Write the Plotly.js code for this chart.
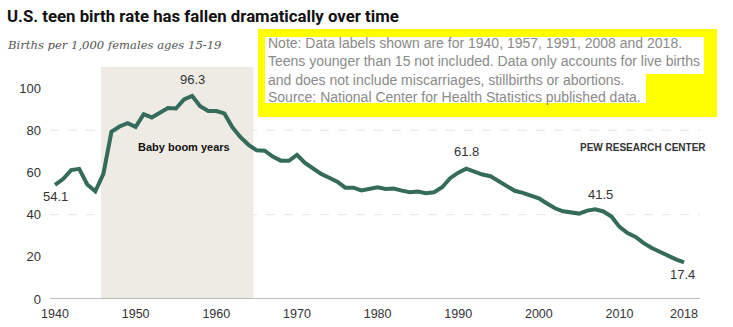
<!DOCTYPE html>
<html>
<head>
<meta charset="utf-8">
<script src="https://cdn.plot.ly/plotly-3.0.1.min.js"></script>
<style>
html,body{margin:0;padding:0;background:#fff;}
#chart{width:733px;height:327px;}
</style>
</head>
<body>
<div id="chart"></div>
<script>
// ---- Data ----
const years = [1940,1941,1942,1943,1944,1945,1946,1947,1948,1949,
  1950,1951,1952,1953,1954,1955,1956,1957,1958,1959,
  1960,1961,1962,1963,1964,1965,1966,1967,1968,1969,
  1970,1971,1972,1973,1974,1975,1976,1977,1978,1979,
  1980,1981,1982,1983,1984,1985,1986,1987,1988,1989,
  1990,1991,1992,1993,1994,1995,1996,1997,1998,1999,
  2000,2001,2002,2003,2004,2005,2006,2007,2008,2009,
  2010,2011,2012,2013,2014,2015,2016,2017,2018];
const birthRate = [54.1,56.9,61.1,61.7,54.3,51.1,59.3,79.3,81.8,83.4,
  81.6,87.6,86.1,88.2,90.6,90.3,94.6,96.3,91.4,89.1,
  89.1,88.0,81.4,76.7,73.1,70.5,70.3,67.5,65.6,65.5,
  68.3,64.5,61.7,59.3,57.5,55.6,52.8,52.8,51.5,52.3,
  53.0,52.2,52.4,51.4,50.6,51.0,50.2,50.6,53.0,57.3,
  59.9,61.8,60.3,59.0,58.2,56.0,53.5,51.3,50.3,48.8,
  47.7,45.3,43.0,41.6,41.1,40.5,41.9,42.5,41.5,39.1,
  34.2,31.3,29.4,26.5,24.2,22.3,20.3,18.8,17.4];
const labelYears = [1940,1957,1991,2008,2018];
const xTickVals = [1940,1950,1960,1970,1980,1990,2000,2010,2018];
const yTickVals = [0,20,40,60,80,100];
const babyBoom = [1945.7,1964.6];
const noteLines = [
  "Note: Data labels shown are for 1940, 1957, 1991, 2008 and 2018.",
  "Teens younger than 15 not included. Data only accounts for live births",
  "and does not include miscarriages, stillbirths or abortions.",
  "Source: National Center for Health Statistics published data."
];

// ---- Layout helpers ----
const L=50, T=67, W=650, H=232;
const px = x => (x-L)/W;
const py = y => (T+H-y)/H;
const FONT = "Liberation Sans, Arial, sans-serif";

const labelOffsets = {1940:[0,-12],1957:[0,16],1991:[0,17],2008:[-3,17],2018:[-2,-12]};
const annotations = [];
labelYears.forEach(yr=>{
  const v = birthRate[years.indexOf(yr)];
  const o = labelOffsets[yr];
  annotations.push({x:yr, y:v, xref:'x', yref:'y', text:v.toFixed(1), showarrow:false,
    xshift:o[0], yshift:o[1], font:{family:FONT,size:13,color:'#333'}});
});
annotations.push({x:1956, y:72, xref:'x', yref:'y', text:'<b>Baby boom years</b>', showarrow:false,
  font:{family:FONT,size:11,color:'#111'}});
annotations.push({x:px(708), y:py(140), xref:'paper', yref:'paper', xanchor:'right', text:'<b>PEW RESEARCH CENTER</b>',
  showarrow:false, font:{family:FONT,size:10,color:'#333'}});
annotations.push({x:px(5), y:py(16), xref:'paper', yref:'paper', xanchor:'left', yanchor:'middle',
  text:'<b>U.S. teen birth rate has fallen dramatically over time</b>', showarrow:false,
  font:{family:"Roboto, Liberation Sans, sans-serif",size:16.8,color:'#111'}});
annotations.push({x:px(5), y:py(45), xref:'paper', yref:'paper', xanchor:'left', yanchor:'middle',
  text:'<i>Births per 1,000 females ages 15-19</i>', showarrow:false,
  font:{family:"DejaVu Serif, Georgia, serif",size:11.6,color:'#555'}});
const lineY = [43,61,80,97];
noteLines.forEach((t,i)=>{
  annotations.push({x:px(266), y:py(lineY[i]), xref:'paper', yref:'paper', xanchor:'left', yanchor:'middle',
    text:t, showarrow:false, font:{family:FONT,size:14,color:'#8a8a8a'}});
});

const shapes = [
  {type:'rect', xref:'x', yref:'y', x0:babyBoom[0], x1:babyBoom[1], y0:0, y1:110,
    fillcolor:'#eeebe5', line:{width:0}, layer:'below'},
  {type:'line', xref:'paper', yref:'y', x0:0, x1:1, y0:40, y1:40, line:{color:'#e6e6e6', width:1, dash:'dash'}, layer:'below'},
  {type:'line', xref:'paper', yref:'y', x0:0, x1:1, y0:80, y1:80, line:{color:'#e6e6e6', width:1, dash:'dash'}, layer:'below'},
  {type:'line', xref:'paper', yref:'y', x0:0, x1:1, y0:0, y1:0, line:{color:'#a8a8a8', width:1.5}},
  {type:'rect', xref:'paper', yref:'paper', x0:px(258), x1:px(717), y0:py(117), y1:py(29),
    fillcolor:'#ffff00', line:{width:0}},
  {type:'rect', xref:'paper', yref:'paper', x0:px(265), x1:px(704), y0:py(74), y1:py(37),
    fillcolor:'#ffffff', line:{width:0}},
  {type:'rect', xref:'paper', yref:'paper', x0:px(265), x1:px(646), y0:py(103), y1:py(73),
    fillcolor:'#ffffff', line:{width:0}}
];

const trace = {x:years, y:birthRate, type:'scatter', mode:'lines',
  line:{color:'#356b5a', width:4, shape:'linear'}, hoverinfo:'x+y'};

const layout = {
  width:733, height:327,
  margin:{l:L, r:733-L-W, t:T, b:327-T-H, pad:0},
  paper_bgcolor:'#fff', plot_bgcolor:'#fff',
  showlegend:false,
  xaxis:{range:[1939.38,2019.98], tickvals:xTickVals, ticktext:xTickVals.map(String),
    showgrid:false, zeroline:false, showline:false, ticks:'', ticklabelstandoff:5,
    tickfont:{family:FONT,size:12.5,color:'#333'}, fixedrange:true},
  yaxis:{range:[0,110], tickvals:yTickVals, showgrid:false, zeroline:false, showline:false,
    ticks:'', ticklabelstandoff:8,
    tickfont:{family:FONT,size:13,color:'#333'}, fixedrange:true},
  shapes:shapes, annotations:annotations
};

Plotly.newPlot('chart',[trace],layout,{displayModeBar:false, staticPlot:true});
</script>
</body>
</html>
